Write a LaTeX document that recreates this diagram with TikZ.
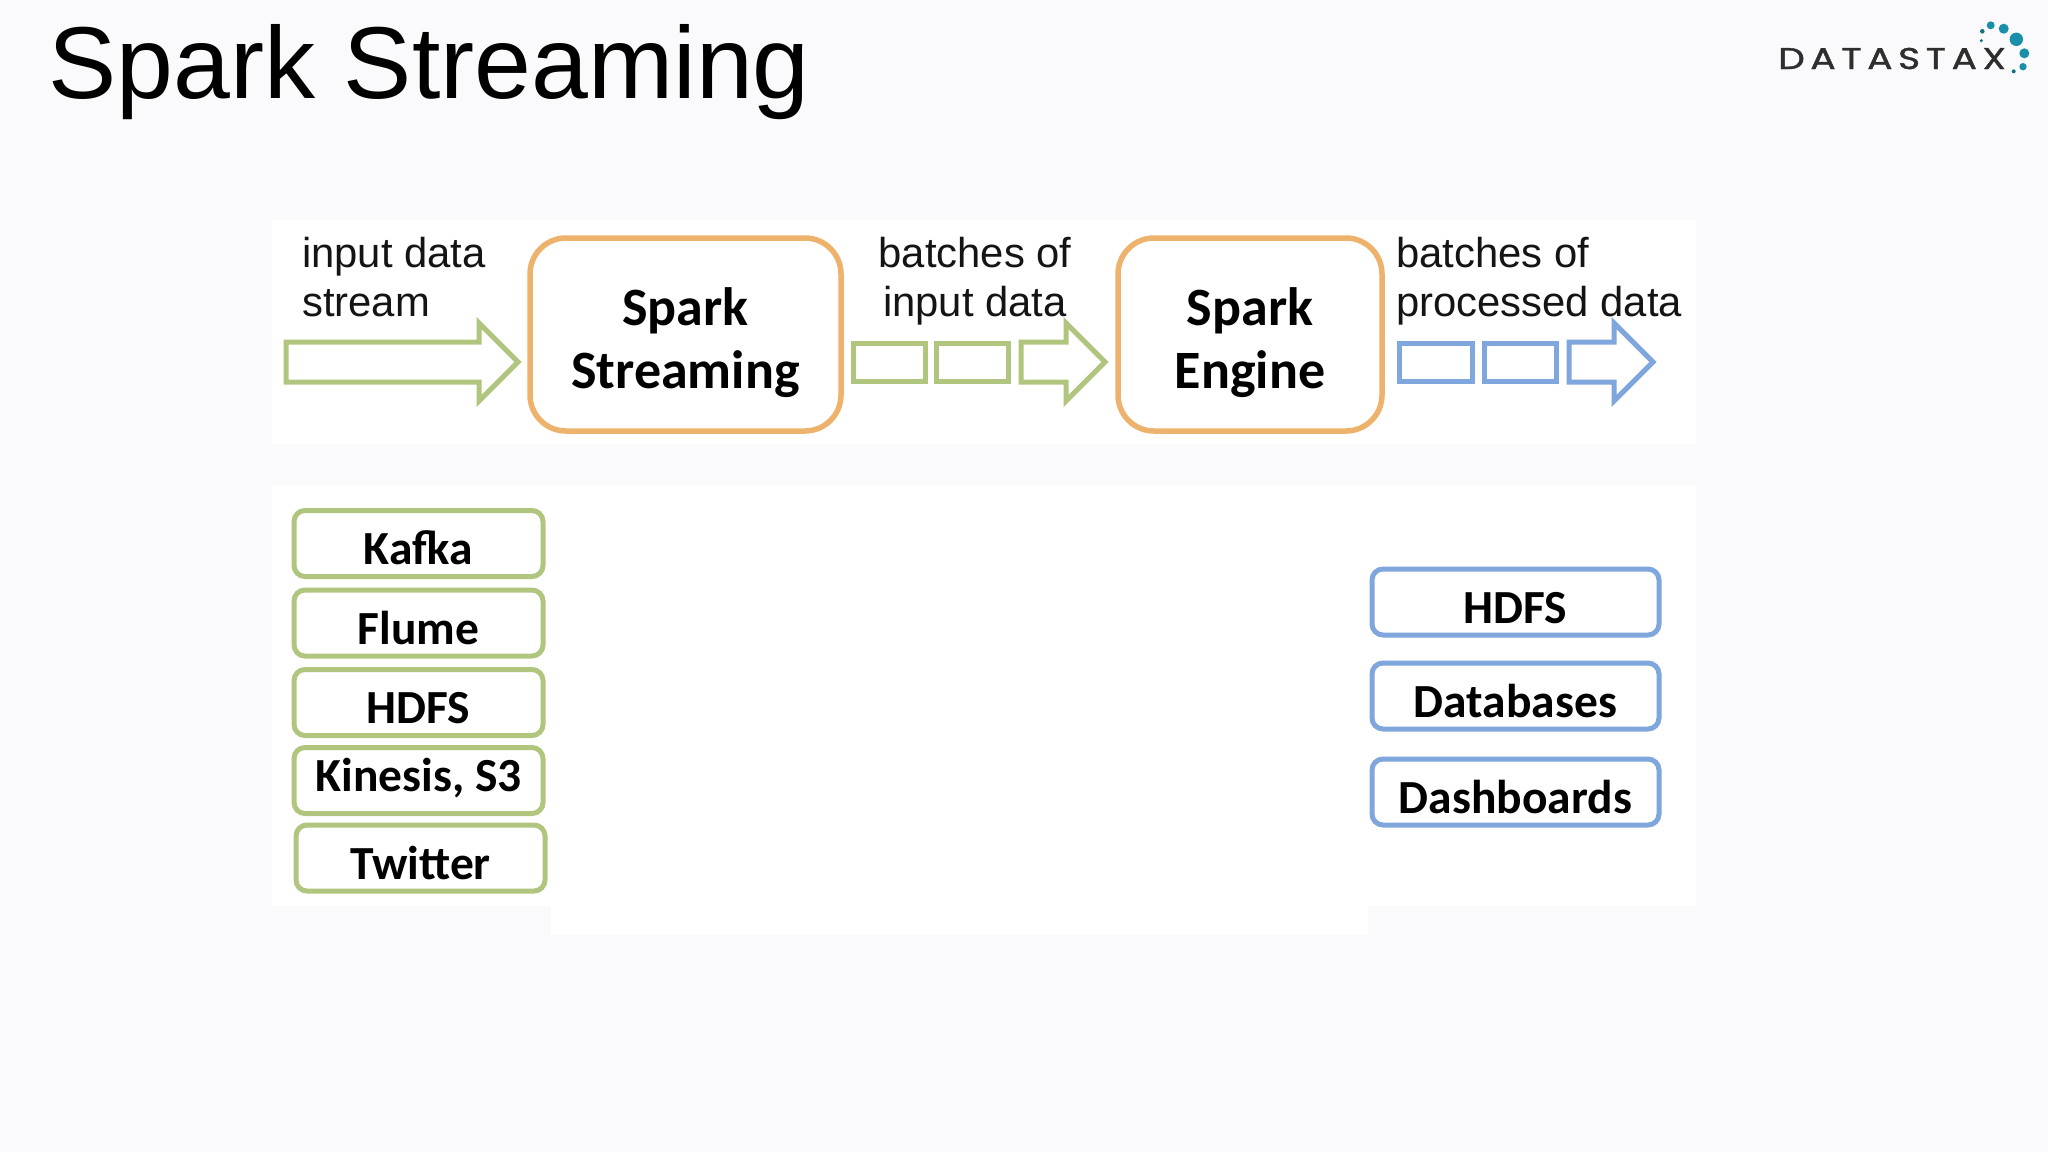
\documentclass[tikz,border=0pt]{standalone}
\usepackage{fontspec}
\setmainfont{Liberation Sans}
\newfontfamily\labelfont{Carlito}
\newfontfamily\logofont[LetterSpace=15,FakeBold=1.2]{Poppins}
\usetikzlibrary{positioning}
\usetikzlibrary{shapes.arrows}

\definecolor{slidebg}{HTML}{FAFAFC}
\definecolor{sparkgreen}{HTML}{B0C57E}
\definecolor{sparkorange}{HTML}{EDB26C}
\definecolor{sparkblue}{HTML}{7FA7DD}
\definecolor{logoteal}{HTML}{1B8FA9}
\definecolor{logodark}{HTML}{14707F}

\tikzset{
  sparkbox/.style={draw=sparkorange, line width=5.5pt, rounded corners=36pt, outer sep=0pt, inner sep=0pt,
    minimum height=193pt, align=center, text height=107pt, text depth=0pt,
    font=\labelfont\bfseries\fontsize{54}{63}\selectfont},
  sourcebox/.style={draw=sparkgreen, line width=5pt, rounded corners=11pt, outer sep=0pt, inner sep=0pt,
    minimum width=249pt, minimum height=66pt, text height=46pt, text depth=4pt,
    font=\labelfont\bfseries\fontsize{47.5}{56}\selectfont},
  sinkbox/.style={sourcebox, draw=sparkblue, minimum width=287pt},
  batchbox/.style={draw=#1, line width=5pt, outer sep=0pt, inner sep=0pt, minimum height=38pt},
  flowarrow/.style={draw=#1, line width=5pt, single arrow, single arrow head extend=19pt, outer sep=0pt,
    inner xsep=0pt, inner ysep=17.5pt, minimum width=74pt},
  caption/.style={anchor=base west, inner sep=0pt, align=left, text=black!92,
    font=\fontsize{41.8}{49.6}\selectfont},
  logodot/.style={circle, fill=logoteal, inner sep=0pt},
}

\begin{document}
\begin{tikzpicture}[x=1pt, y=-1pt]

    \fill[slidebg] (0,0) rectangle (2048,1152);
    \useasboundingbox (0,0) rectangle (2048,1152);
    \fill[white] (272,220) rectangle (1696,444);
    \fill[white] (272,485) rectangle (1696,906);
    \fill[white] (551,906) rectangle (1368,935);

    \node (Title) [anchor=base west, inner sep=0pt, font=\fontsize{102.2}{110}\selectfont] at (48.5,98) {Spark Streaming};

    \node (Streaming) [sparkbox, minimum width=311pt] at (685.5,334.5) {Spark\\Streaming};
    \node (Engine) [sparkbox, minimum width=264pt, right=277pt of Streaming] {Spark\\Engine};

    \node (InputStream) [flowarrow=sparkgreen, minimum height=232pt] at (392,362) {};
    \node (GreenA) [batchbox=sparkgreen, minimum width=72pt] at (889,362) {};
    \node (GreenB) [batchbox=sparkgreen, minimum width=72pt, right=11pt of GreenA] {};
    \node (GreenArrow) [flowarrow=sparkgreen, minimum height=84pt, right=13pt of GreenB] {};
    \node (BlueA) [batchbox=sparkblue, minimum width=73pt] at (1435.5,362) {};
    \node (BlueB) [batchbox=sparkblue, minimum width=72pt, right=12pt of BlueA] {};
    \node (BlueArrow) [flowarrow=sparkblue, minimum height=84pt, right=13pt of BlueB] {};

    \node (InputLabel) [caption] at (302,267) {input data};
    \node (StreamLabel) [caption, below=49.6pt of InputLabel.base west, anchor=base west] {stream};
    \node (BatchLabel) [caption, anchor=base] at (975,267) {batches of};
    \node (BatchDataLabel) [caption, below=49.6pt of BatchLabel.base, anchor=base] {input data};
    \node (ProcessedLabel) [caption] at (1396,267) {batches of};
    \node (ProcessedDataLabel) [caption, below=49.6pt of ProcessedLabel.base west, anchor=base west] {processed data};

    \node (Kafka) [sourcebox] at (418.5,543.5) {Kafka};
    \node (Flume) [sourcebox, below=13.5pt of Kafka] {Flume};
    \node (HDFSin) [sourcebox, below=13.5pt of Flume] {HDFS};
    \node (Kinesis) [sourcebox, below=12pt of HDFSin, text height=29pt, text depth=6.6pt] {Kinesis, S3};
    \node (Twitter) [sourcebox, below=11.5pt of Kinesis, xshift=2pt] {Twitter};

    \node (HDFSout) [sinkbox] at (1515.5,602) {HDFS};
    \node (Databases) [sinkbox, below=28pt of HDFSout] {Databases};
    \node (Dashboards) [sinkbox, below=30pt of Databases] {Dashboards};

    \node (LogoText) [anchor=base west, inner sep=0pt, text=black!82, transform shape, xscale=1.25, font=\logofont\fontsize{30}{30}\selectfont] at (1778,69) {DATASTAX};
    \node (DotA) [logodot, minimum size=8pt] at (1990.7,25.3) {};
    \node (DotB) [logodot, minimum size=10pt] at (2003.7,28.7) {};
    \node (DotC) [logodot, minimum size=13.4pt] at (2016.3,39.3) {};
    \node (DotD) [logodot, minimum size=10pt] at (2024.3,53.3) {};
    \node (DotE) [logodot, minimum size=7.4pt] at (2023,66.7) {};
    \node (DotF) [logodot, fill=logodark, minimum size=4pt] at (2013.7,71.3) {};
    \node (DotG) [logodot, fill=logodark, minimum size=4.6pt] at (1982.3,31.3) {};
    \node (DotH) [logodot, fill=logodark, minimum size=3.4pt] at (1981.3,40.7) {};

\end{tikzpicture}
\end{document}
